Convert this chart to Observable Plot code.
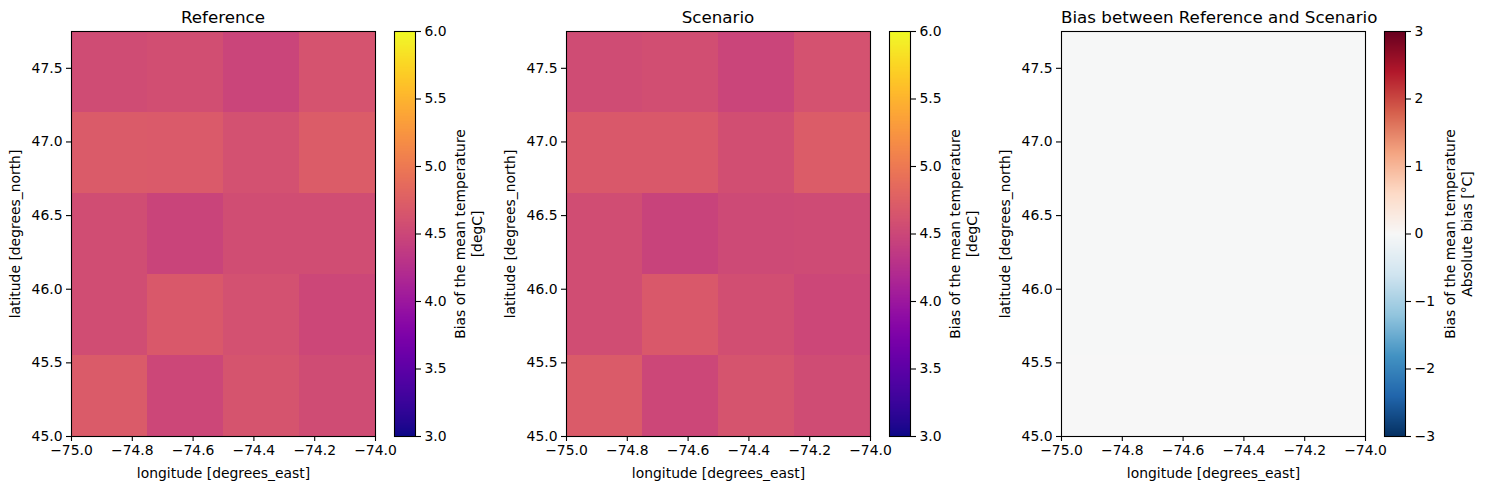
<!DOCTYPE html>
<html>
<head>
<meta charset="utf-8">
<script src="https://cdn.jsdelivr.net/npm/d3@7"></script>
<script src="https://cdn.jsdelivr.net/npm/@observablehq/plot@0.6"></script>
<style>
  html, body { margin: 0; padding: 0; background: #fff; }
  #root { position: relative; width: 1485px; height: 490px; font-family: "DejaVu Sans", sans-serif; color: #000; }
  .panel { position: absolute; top: 0; width: 495px; height: 490px; }
  .panel svg { position: absolute; top: 0; overflow: visible; }
  .title { position: absolute; top: 7px; left: 71px; width: 304px; text-align: center; font-size: 16.7px; line-height: 20px; white-space: nowrap; }
</style>
</head>
<body>
<div id="root"></div>
<script>
// ---- data ----
const lonEdges = [-75, -74.75, -74.5, -74.25, -74];
const latEdges = [45, 45.55, 46.1, 46.65, 47.2, 47.75];
// rows from south (45.0) to north (47.75), columns west to east
const referenceValues = [
  [4.70, 4.50, 4.63, 4.55],
  [4.57, 4.68, 4.60, 4.51],
  [4.57, 4.47, 4.56, 4.56],
  [4.70, 4.69, 4.60, 4.72],
  [4.55, 4.58, 4.48, 4.62]
];
const scenarioValues = [
  [4.70, 4.50, 4.63, 4.55],
  [4.57, 4.68, 4.58, 4.50],
  [4.57, 4.46, 4.53, 4.54],
  [4.68, 4.68, 4.58, 4.72],
  [4.55, 4.58, 4.48, 4.61]
];
const biasValues = [
  [0.0, 0.0, 0.0, 0.0],
  [-0.015, -0.015, -0.015, -0.015],
  [-0.015, -0.015, -0.015, -0.015],
  [-0.015, -0.015, -0.015, -0.015],
  [-0.015, -0.015, -0.015, -0.015]
];
const lonTicks = [-75, -74.8, -74.6, -74.4, -74.2, -74];
const latTicks = [45, 45.5, 46, 46.5, 47, 47.5];
const tempTicks = [3, 3.5, 4, 4.5, 5, 5.5, 6];
const biasTicks = [-3, -2, -1, 0, 1, 2, 3];
const titles = ["Reference", "Scenario", "Bias between Reference and Scenario"];
const cbarLabels = ["Bias of the mean temperature\n[degC]", "Bias of the mean temperature\n[degC]", "Bias of the mean temperature\nAbsolute bias [°C]"];

// ---- helpers ----
const FONT = "DejaVu Sans";
const FS = 13.9;
const fmt1 = d3.format(".1f");
const fmt0 = d3.format("d");

// ColorBrewer RdBu (reversed: blue for negative, red for positive), as in matplotlib RdBu_r
const rdbuR = ["#053061", "#2166ac", "#4393c3", "#92c5de", "#d1e5f0", "#f7f7f7", "#fddbc7", "#f4a582", "#d6604d", "#b2182b", "#67001f"];
const rdbuDomain = rdbuR.map((_, i) => -3 + i * 0.6);

function cells(values) {
  const out = [];
  values.forEach((row, i) => row.forEach((v, j) => out.push({
    x1: lonEdges[j], x2: lonEdges[j + 1], y1: latEdges[i], y2: latEdges[i + 1], v
  })));
  return out;
}

const panels = [
  {values: referenceValues, color: {type: "linear", scheme: "plasma", domain: [3, 6]}, ext: [3, 6], ticks: tempTicks, tfmt: fmt1},
  {values: scenarioValues, color: {type: "linear", scheme: "plasma", domain: [3, 6]}, ext: [3, 6], ticks: tempTicks, tfmt: fmt1},
  {values: biasValues, color: {type: "linear", domain: rdbuDomain, range: rdbuR, interpolate: "rgb", clamp: true}, ext: [-3, 3], ticks: biasTicks, tfmt: fmt0}
];

const root = document.getElementById("root");
panels.forEach((p, k) => {
  const div = document.createElement("div");
  div.className = "panel";
  div.style.left = (k * 495) + "px";
  root.appendChild(div);

  const t = document.createElement("div");
  t.className = "title";
  t.textContent = titles[k];
  div.appendChild(t);

  const main = Plot.plot({
    width: 390, height: 490,
    marginLeft: 71, marginRight: 15, marginTop: 31, marginBottom: 54,
    style: {fontFamily: FONT, fontSize: FS + "px", color: "#000", background: "transparent", overflow: "visible"},
    x: {domain: [-75, -74]},
    y: {domain: [45, 47.75]},
    color: p.color,
    marks: [
      Plot.rect(cells(p.values), {x1: "x1", x2: "x2", y1: "y1", y2: "y2", fill: "v", inset: 0, shapeRendering: "crispEdges"}),
      Plot.frame({stroke: "#000", strokeWidth: 1.1}),
      Plot.axisX({ticks: lonTicks, tickFormat: fmt1, tickSize: 5, tickPadding: 4, strokeWidth: 1.1,
        label: "longitude [degrees_east]", labelAnchor: "center", labelArrow: "none", labelOffset: 41, fontSize: FS}),
      Plot.axisY({ticks: latTicks, tickFormat: fmt1, tickSize: 5, tickPadding: 4, strokeWidth: 1.1,
        label: "latitude [degrees_north]", labelAnchor: "center", labelArrow: "none", labelOffset: 61, fontSize: FS})
    ]
  });
  main.style.left = "0px";
  div.appendChild(main);

  const cbar = Plot.plot({
    width: 91, height: 490,
    marginLeft: 0, marginRight: 70, marginTop: 31, marginBottom: 54,
    style: {fontFamily: FONT, fontSize: FS + "px", color: "#000", background: "transparent", overflow: "visible"},
    x: {domain: [0, 1], axis: null},
    y: {domain: p.ext},
    color: p.color,
    marks: [
      Plot.raster({x1: 0, x2: 1, y1: p.ext[0], y2: p.ext[1], fill: (x, y) => y, pixelSize: 1}),
      Plot.frame({stroke: "#000", strokeWidth: 1.1}),
      Plot.axisY({anchor: "right", ticks: p.ticks, tickFormat: p.tfmt, tickSize: 5, tickPadding: 4, strokeWidth: 1.1, label: null, fontSize: FS}),
      Plot.text([cbarLabels[k]], {text: d => d, frameAnchor: "right", textAnchor: "middle", rotate: -90, dx: 53, lineAnchor: "middle", lineHeight: 1.22, fontSize: FS, fill: "#000"})
    ]
  });
  cbar.style.left = "394px";
  div.appendChild(cbar);
});
</script>
</body>
</html>
